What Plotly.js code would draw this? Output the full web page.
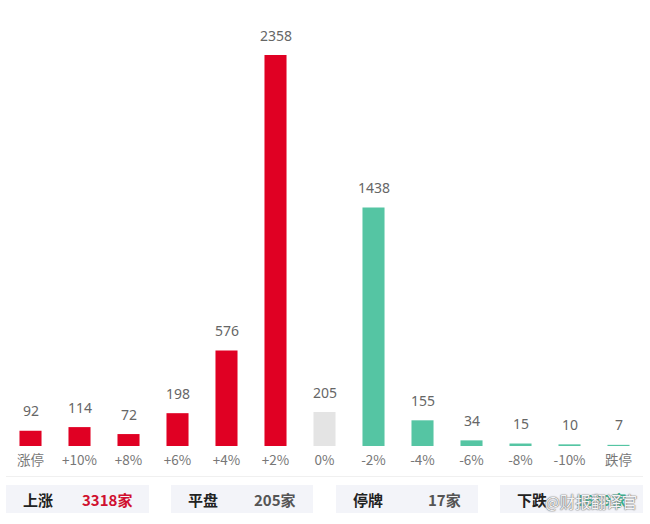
<!DOCTYPE html>
<html><head><meta charset="utf-8">
<script src="https://cdn.plot.ly/plotly-3.0.1.min.js"></script>
<style>html,body{margin:0;padding:0;background:#fff}</style></head>
<body><div id="c" style="width:650px;height:524px"></div>
<script>
const categories=['涨停','+10%','+8%','+6%','+4%','+2%','0%','-2%','-4%','-6%','-8%','-10%','跌停'];
const counts=[92,114,72,198,576,2358,205,1438,155,34,15,10,7];
const barColors=['#e00023','#e00023','#e00023','#e00023','#e00023','#e00023','#e4e4e4','#55c5a3','#55c5a3','#55c5a3','#55c5a3','#55c5a3','#55c5a3'];
const summaryNames=['上涨','平盘','停牌','下跌'];
const summaryValues=['3318家','205家','17家','1659家'];
const summaryColors=['#d0102f','#555555','#555555','#2fb58d'];
const W=650,H=524;
const boxes=[[6,149],[171,313],[336,478],[500,643]];
const fn='"Noto Sans CJK SC","Noto Sans",sans-serif';
const px=x=>(x-6)/637, py=y=>(446-y)/(446-15);
const shapes=[{type:'line',xref:'paper',yref:'paper',x0:px(6),x1:px(643),y0:py(476.5),y1:py(476.5),line:{color:'#f0f0f0',width:1},layer:'below'}];
const annotations=[];
categories.forEach((c,i)=>{
 annotations.push({x:c,y:counts[i],yanchor:'bottom',xanchor:'center',yshift:8.5,text:String(counts[i]),showarrow:false,font:{family:'"Noto Sans",sans-serif',size:14,color:'#666'}});
});
boxes.forEach((b,i)=>{
 shapes.push({type:'rect',xref:'paper',yref:'paper',x0:px(b[0]),x1:px(b[1]),y0:py(485),y1:py(513),fillcolor:'#f3f4f9',line:{width:0},layer:'below'});
 annotations.push({xref:'paper',yref:'paper',x:px(b[0]+32),y:py(499.5),xanchor:'center',yanchor:'middle',text:'<b>'+summaryNames[i]+'</b>',showarrow:false,font:{family:fn,size:15,color:'#222'}});
 annotations.push({xref:'paper',yref:'paper',x:px(b[1]-15.5),y:py(499.5),xanchor:'right',yanchor:'middle',text:'<b>'+summaryValues[i]+'</b>',showarrow:false,font:{family:fn,size:15,color:summaryColors[i]}});
});
annotations.push({xref:'paper',yref:'paper',x:px(639),y:py(501),xanchor:'right',yanchor:'middle',text:'@财报翻译官',showarrow:false,font:{family:fn,size:15.5,color:'#f4f4f6',shadow:'0 0 1px #777, 0 0 1px #777, 0 0 2px #999'}});
Plotly.newPlot('c',[{type:'bar',x:categories,y:counts,marker:{color:barColors},width:0.45}],{
 width:W,height:H,margin:{l:6,r:7,t:15,b:78},paper_bgcolor:'#fff',plot_bgcolor:'#fff',showlegend:false,
 xaxis:{type:'category',tickfont:{family:fn,size:13.5,color:'#777'},showline:false,showgrid:false,zeroline:false,ticks:'',ticklen:0,tickangle:0,ticklabelstandoff:4,fixedrange:true},
 yaxis:{range:[0,2600],visible:false,fixedrange:true},
 shapes,annotations
},{displayModeBar:false,staticPlot:true});
</script></body></html>
